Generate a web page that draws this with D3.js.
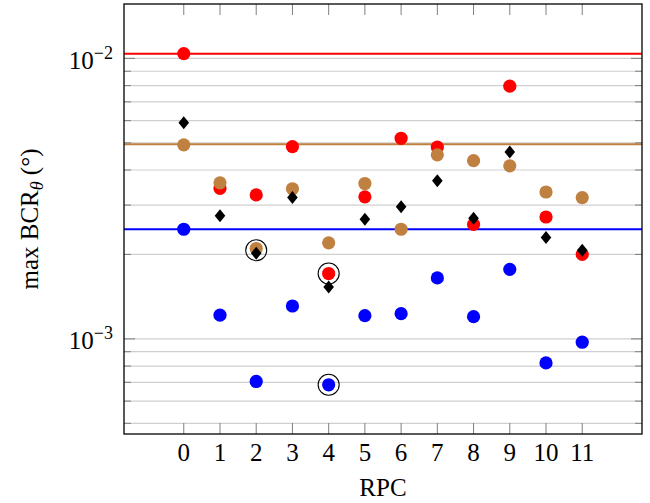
<!DOCTYPE html>
<html>
<head>
<meta charset="utf-8">
<script src="https://cdnjs.cloudflare.com/ajax/libs/d3/7.8.5/d3.min.js"></script>
<style>
  body { margin: 0; background: #fff; }
</style>
</head>
<body>
<svg id="chart" width="650" height="503" font-family="'Liberation Serif', 'Times New Roman', 'DejaVu Serif', serif"></svg>
<script>
// data
let rpc = [0, 1, 2, 3, 4, 5, 6, 7, 8, 9, 10, 11];
let redVals = [1.04e-2, 3.44e-3, 3.26e-3, 4.85e-3, 1.71e-3, 3.21e-3, 5.19e-3, 4.83e-3, 2.56e-3, 7.96e-3, 2.72e-3, 2.00e-3];
let brownVals = [4.92e-3, 3.60e-3, 2.10e-3, 3.43e-3, 2.20e-3, 3.58e-3, 2.46e-3, 4.53e-3, 4.32e-3, 4.14e-3, 3.34e-3, 3.19e-3];
let blackVals = [5.90e-3, 2.75e-3, 2.02e-3, 3.19e-3, 1.53e-3, 2.67e-3, 2.96e-3, 3.66e-3, 2.69e-3, 4.64e-3, 2.30e-3, 2.07e-3];
let blueVals = [2.46e-3, 1.215e-3, 7.05e-4, 1.31e-3, 6.86e-4, 1.21e-3, 1.23e-3, 1.65e-3, 1.20e-3, 1.77e-3, 8.21e-4, 9.73e-4];
let refLines = [1.038e-2, 4.94e-3, 2.46e-3];
let refColors = ["#ff0000", "#bf8040", "#0000ff"];
let circledX = [2, 4, 4];
let circledY = [2.07e-3, 1.71e-3, 6.86e-4];
let yMajor = [1e-3, 1e-2];
let yMajorExp = ["3", "2"];

let svg = d3.select("#chart"),
    pLeft = 124, pRight = 642, pTop = 4, pBottom = 434;

let x = d3.scaleLinear().domain([-1.65, 12.65]).range([pLeft, pRight]);
let y = d3.scaleLog().domain([4.58e-4, 1.563e-2]).range([pBottom, pTop]);

// minor + major grid values
let gridVals = [];
[1e-4, 1e-3, 1e-2].forEach(function(dec) {
    for (let k = 1; k < 10; k++) {
        let v = dec * k;
        if (v >= y.domain()[0] && v <= y.domain()[1]) gridVals.push(v);
    }
});

svg.append("g").selectAll("line")
    .data(gridVals)
    .enter().append("line")
    .attr("x1", pLeft).attr("x2", pRight)
    .attr("y1", function(d) { return y(d); })
    .attr("y2", function(d) { return y(d); })
    .attr("stroke", "#cfcfcf")
    .attr("stroke-width", 1.2);

// reference lines
svg.append("g").selectAll("line")
    .data(refLines)
    .enter().append("line")
    .attr("x1", pLeft).attr("x2", pRight)
    .attr("y1", function(d) { return y(d); })
    .attr("y2", function(d) { return y(d); })
    .attr("stroke", function(d, i) { return refColors[i]; })
    .attr("stroke-width", 2);

// ticks (inside the box)
let tickG = svg.append("g").attr("stroke", "#7f7f7f").attr("stroke-width", 1);
gridVals.forEach(function(v) {
    let len = yMajor.indexOf(v) >= 0 ? 11 : 7;
    tickG.append("line").attr("x1", pLeft).attr("x2", pLeft + len).attr("y1", y(v)).attr("y2", y(v));
    tickG.append("line").attr("x1", pRight).attr("x2", pRight - len).attr("y1", y(v)).attr("y2", y(v));
});
rpc.forEach(function(r) {
    tickG.append("line").attr("x1", x(r)).attr("x2", x(r)).attr("y1", pTop).attr("y2", pTop + 11);
    tickG.append("line").attr("x1", x(r)).attr("x2", x(r)).attr("y1", pBottom).attr("y2", pBottom - 11);
});

// markers
function dots(vals, color) {
    svg.append("g").selectAll("circle")
        .data(vals)
        .enter().append("circle")
        .attr("cx", function(d, i) { return x(rpc[i]); })
        .attr("cy", function(d) { return y(d); })
        .attr("r", 6.6)
        .attr("fill", color);
}
dots(redVals, "#ff0000");
dots(brownVals, "#bf8040");

svg.append("g").selectAll("path")
    .data(blackVals)
    .enter().append("path")
    .attr("d", function(d, i) {
        let cx = x(rpc[i]), cy = y(d);
        return "M" + cx + "," + (cy - 6.5) + "L" + (cx + 5.3) + "," + cy +
            "L" + cx + "," + (cy + 6.5) + "L" + (cx - 5.3) + "," + cy + "Z";
    })
    .attr("fill", "#000");

dots(blueVals, "#0000ff");

svg.append("g").selectAll("circle")
    .data(circledY)
    .enter().append("circle")
    .attr("cx", function(d, i) { return x(circledX[i]); })
    .attr("cy", function(d) { return y(d); })
    .attr("r", 10.5)
    .attr("fill", "none")
    .attr("stroke", "#000")
    .attr("stroke-width", 1.1);

// frame
svg.append("rect")
    .attr("x", pLeft).attr("y", pTop)
    .attr("width", pRight - pLeft).attr("height", pBottom - pTop)
    .attr("fill", "none")
    .attr("stroke", "#000")
    .attr("stroke-width", 1.3);

// x tick labels
svg.append("g").selectAll("text")
    .data(rpc)
    .enter().append("text")
    .attr("x", function(d) { return x(d); })
    .attr("y", 461)
    .attr("text-anchor", "middle")
    .attr("font-size", "25px")
    .text(function(d) { return d; });

// y tick labels 10^-n
yMajor.forEach(function(v, i) {
    let t = svg.append("text")
        .attr("x", 113)
        .attr("y", y(v) + 10.5)
        .attr("text-anchor", "end")
        .attr("font-size", "25px");
    t.append("tspan").text("10");
    t.append("tspan").attr("dy", -10).attr("font-size", "18px").text("\u2212" + yMajorExp[i]);
});

// axis titles
svg.append("text")
    .attr("x", (pLeft + pRight) / 2)
    .attr("y", 496)
    .attr("text-anchor", "middle")
    .attr("font-size", "25px")
    .text("RPC");

let yl = svg.append("text")
    .attr("transform", "translate(38," + (pTop + pBottom) / 2 + ") rotate(-90)")
    .attr("text-anchor", "middle")
    .attr("font-size", "25px");
yl.append("tspan").text("max BCR");
yl.append("tspan").attr("dy", 5).attr("font-size", "18px").attr("font-style", "italic").text("\u03b8");
yl.append("tspan").attr("dy", -5).text(" (\u00b0)");
</script>
</body>
</html>
